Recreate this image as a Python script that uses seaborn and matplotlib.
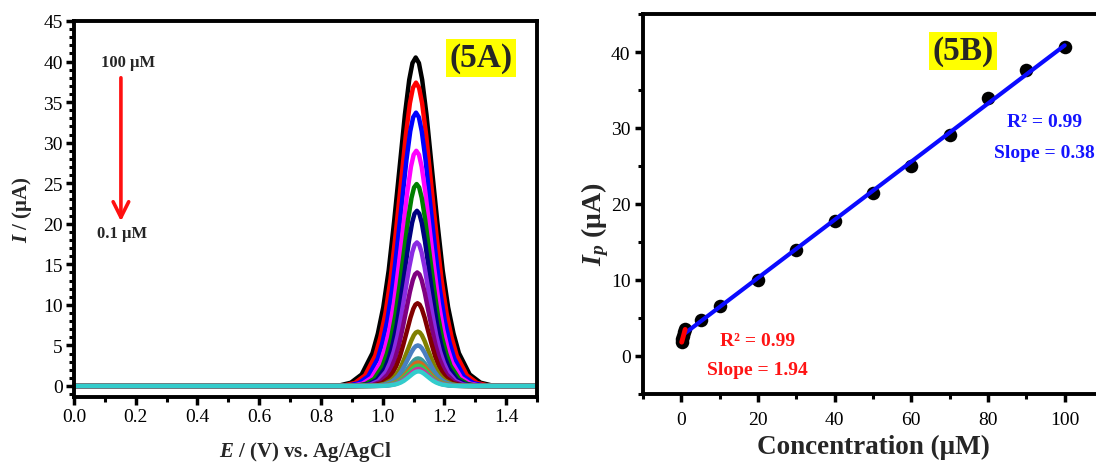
import numpy as np
import pandas as pd
import matplotlib
matplotlib.use("Agg")
import matplotlib.pyplot as plt
import seaborn as sns
from matplotlib.ticker import MultipleLocator

# ---------------- data: panel 5A (DPV curves) ----------------
curve_labels = ["100", "90", "80", "70", "60", "50", "40", "30", "20", "10",
                "5", "1", "0.8", "0.5", "0.3", "0.1"]
peak_potential = [1.107, 1.108, 1.108, 1.109, 1.110, 1.111, 1.111, 1.112,
                  1.113, 1.114, 1.114, 1.115, 1.115, 1.115, 1.116, 1.116]
peak_current = [40.5, 37.4, 33.7, 29.0, 24.9, 21.6, 17.7, 14.0, 10.2, 6.7,
                5.0, 3.4, 2.9, 2.5, 2.1, 1.8]
half_width = [0.070, 0.066, 0.062, 0.058, 0.055, 0.052, 0.050, 0.048, 0.046,
              0.044, 0.043, 0.042, 0.041, 0.040, 0.039, 0.038]
# peak shape (offset in half-widths, relative height)
profile_offset = [-4, -3.5, -3, -2.5, -2, -1.75, -1.5, -1.25, -1, -0.75, -0.5,
                  -0.3, -0.15, 0, 0.15, 0.3, 0.5, 0.75, 1, 1.25, 1.5, 1.75, 2,
                  2.5, 3, 3.5, 4]
profile_rel = [0, 0.002, 0.010, 0.035, 0.100, 0.160, 0.240, 0.352, 0.5,
               0.662, 0.826, 0.932, 0.983, 1.0, 0.983, 0.932, 0.826, 0.662, 0.5,
               0.352, 0.240, 0.160, 0.100, 0.035, 0.010, 0.002, 0]
potential_range = [0.0, 1.5]
curve_colors = ["#000000", "#ff0000", "#0000ff", "#ff00ff", "#008000", "#000080",
                "#8a2be2", "#800080", "#800000", "#808000", "#4a7fc1", "#3a9b9b",
                "#d2691e", "#2ecc55", "#cc3399", "#33cccc"]

# ---------------- data: panel 5B (calibration) ----------------
concentration = [0.1, 0.3, 0.5, 0.8, 1, 5, 10, 20, 30, 40, 50, 60, 70, 80, 90, 100]
peak_ip = [1.8, 2.2, 2.6, 3.1, 3.5, 4.7, 6.6, 10.0, 13.9, 17.7, 21.5, 25.0, 29.1,
           33.9, 37.6, 40.7]
low_r2, low_slope = "0.99", "1.94"
high_r2, high_slope = "0.99", "0.38"

# ---------------- style ----------------
sns.set_style("ticks")
plt.rcParams["font.family"] = ["Liberation Serif", "DejaVu Serif"]
plt.rcParams["mathtext.fontset"] = "custom"
plt.rcParams["mathtext.rm"] = "Liberation Serif:bold"
plt.rcParams["mathtext.it"] = "Liberation Serif:italic:bold"
plt.rcParams["mathtext.bf"] = "Liberation Serif:bold"

W, H = 1096, 464
fig = plt.figure(figsize=(W / 100, H / 100), dpi=100)
ax1 = fig.add_axes([74 / W, (H - 398) / H, (537 - 74) / W, (398 - 22) / H])
ax2 = fig.add_axes([643 / W, (H - 395) / H, (1103 - 643) / W, (395 - 15) / H])

# ---- build long-form table for 5A ----
rows = []
for lab, ep, ip, hw in zip(curve_labels, peak_potential, peak_current, half_width):
    rows.append((lab, potential_range[0], 0.0))
    for o, r in zip(profile_offset, profile_rel):
        rows.append((lab, ep + o * hw, ip * r))
    rows.append((lab, potential_range[1], 0.0))
df_a = pd.DataFrame(rows, columns=["conc", "E", "I"])

sns.lineplot(data=df_a, x="E", y="I", hue="conc", hue_order=curve_labels,
             palette=curve_colors, estimator=None, sort=False, lw=3.2,
             legend=False, ax=ax1)

ax1.set_xlim(0, 1.5)
ax1.set_ylim(-1.36, 45)
ax1.xaxis.set_major_locator(MultipleLocator(0.2))
ax1.xaxis.set_minor_locator(MultipleLocator(0.1))
ax1.yaxis.set_major_locator(MultipleLocator(5))
ax1.yaxis.set_minor_locator(MultipleLocator(1))
ax1.set_xticks(ax1.get_xticks())
ax1.set_xticklabels([f"{v:.1f}" for v in ax1.get_xticks()])
ax1.set_xlim(0, 1.5)

ax1.set_xlabel(r"$\mathit{E}$ / (V) vs. Ag/AgCl", fontsize=15, fontweight="bold")
ax1.set_ylabel(r"$\mathit{I}$ / (μA)", fontsize=15, fontweight="bold")
ax1.xaxis.set_label_coords(0.5, -0.112)
ax1.yaxis.set_label_coords(-0.086, 0.5)

ax1.text(0.879, 0.902, "(5A)", transform=ax1.transAxes, ha="center", va="center",
         fontsize=24, fontweight="bold",
         bbox=dict(boxstyle="square,pad=0.1", fc="#ffff00", ec="none"))
ax1.text(0.175, 40.0, "100 μM", ha="center", va="center", fontsize=12,
         fontweight="bold")
ax1.text(0.156, 18.9, "0.1 μM", ha="center", va="center", fontsize=12,
         fontweight="bold")
ax1.annotate("", xy=(0.152, 20.3), xytext=(0.152, 38.0),
             arrowprops=dict(arrowstyle="->", color="#ff1010", lw=2.6,
                             mutation_scale=28, shrinkA=0, shrinkB=0))

# ---- 5B ----
df_b = pd.DataFrame({"c": concentration, "ip": peak_ip})
low = df_b[df_b["c"] <= 1]
high = df_b[df_b["c"] >= 1]

sns.scatterplot(data=df_b, x="c", y="ip", color="black", s=95, edgecolor="black",
                linewidth=0, zorder=2, ax=ax2)
sns.regplot(data=high, x="c", y="ip", scatter=False, ci=None, truncate=True,
            line_kws=dict(color="#0a0aff", lw=3, zorder=3), ax=ax2)
sns.regplot(data=low, x="c", y="ip", scatter=False, ci=None, truncate=True,
            line_kws=dict(color="#ff0000", lw=3.5, zorder=4,
                          solid_capstyle="round"), ax=ax2)

ax2.set_xlim(-10, 110)
ax2.set_ylim(-5, 45)
ax2.xaxis.set_major_locator(MultipleLocator(20))
ax2.xaxis.set_minor_locator(MultipleLocator(10))
ax2.yaxis.set_major_locator(MultipleLocator(10))
ax2.yaxis.set_minor_locator(MultipleLocator(5))
ax2.set_xlabel("Concentration (μM)", fontsize=19.5, fontweight="bold")
ax2.set_ylabel(r"$\mathit{I}_{\mathit{p}}$ (μA)", fontsize=20, fontweight="bold")
ax2.xaxis.set_label_coords(0.5, -0.105)
ax2.yaxis.set_label_coords(-0.07, 0.45)

ax2.text(0.696, 0.903, "(5B)", transform=ax2.transAxes, ha="center", va="center",
         fontsize=24, fontweight="bold",
         bbox=dict(boxstyle="square,pad=0.1", fc="#ffff00", ec="none"))
ax2.text(19.8, 2.1, f"R² = {low_r2}", color="#ff1414", ha="center", va="center",
         fontsize=14, fontweight="bold")
ax2.text(19.8, -1.8, f"Slope = {low_slope}", color="#ff1414", ha="center",
         va="center", fontsize=14, fontweight="bold")
ax2.text(94.8, 30.8, f"R² = {high_r2}", color="#1414ff", ha="center", va="center",
         fontsize=14, fontweight="bold")
ax2.text(94.8, 26.8, f"Slope = {high_slope}", color="#1414ff", ha="center",
         va="center", fontsize=14, fontweight="bold")

for ax in (ax1, ax2):
    for sp in ax.spines.values():
        sp.set_visible(True)
        sp.set_linewidth(2.8)
        sp.set_color("black")
    ax.tick_params(which="major", direction="out", length=6, width=2.5,
                   labelsize=14, color="black", labelcolor="black")
    ax.tick_params(which="minor", direction="out", length=3.5, width=2.2,
                   color="black")
ax1.tick_params(axis="both", which="major", pad=2)
ax2.tick_params(axis="x", which="major", pad=6)
ax2.tick_params(axis="y", which="major", pad=3)

fig.savefig("out.png", dpi=100)
